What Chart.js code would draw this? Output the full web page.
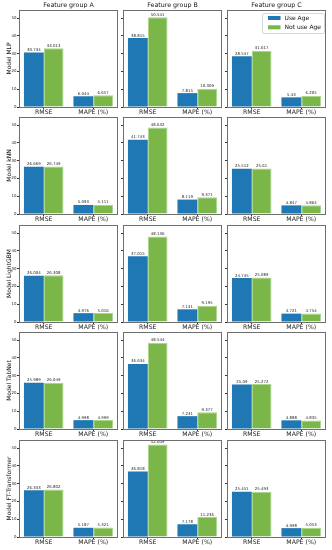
<!DOCTYPE html>
<html><head><meta charset="utf-8">
<script src="https://cdn.jsdelivr.net/npm/chart.js@4.4.1/dist/chart.umd.min.js"></script>
<style>
html,body{margin:0;padding:0;background:#fff;}
#fig{position:relative;width:332px;height:550px;overflow:hidden;background:#fff;}
#fig canvas{position:absolute;}
</style></head><body><div id="fig"></div>
<script>
// ---- data ----
const categories = ['RMSE', 'MAPE (%)'];
const groupTitles = ['Feature group A', 'Feature group B', 'Feature group C'];
const modelNames = ['MLP', 'kNN', 'LightGBM', 'TabNet', 'FT-Transformer'];
const seriesLabels = ['Use Age', 'Not use Age'];
const yTickStep = 10;

// [group A, group B, group C] -> [RMSE, MAPE]
const mlpUseAge = [[30.734, 6.044], [38.815, 7.815], [28.547, 5.43]];
const mlpNoAge = [[33.013, 6.657], [50.541, 10.309], [31.617, 6.205]];
const knnUseAge = [[26.669, 5.093], [41.743, 8.119], [25.512, 4.847]];
const knnNoAge = [[26.749, 5.111], [48.632, 9.371], [25.61, 4.864]];
const lgbmUseAge = [[26.004, 4.976], [37.015, 7.141], [24.745, 4.721]];
const lgbmNoAge = [[26.308, 5.016], [48.136, 9.195], [25.089, 4.754]];
const tabnetUseAge = [[25.989, 4.998], [36.634, 7.231], [25.09, 4.888]];
const tabnetNoAge = [[26.049, 4.999], [48.544, 9.377], [25.272, 4.835]];
const ftUseAge = [[26.333, 5.187], [36.818, 7.178], [25.451, 4.998]];
const ftNoAge = [[26.802, 5.321], [52.009, 11.236], [25.493, 5.053]];

const useAgeByModel = [mlpUseAge, knnUseAge, lgbmUseAge, tabnetUseAge, ftUseAge];
const noAgeByModel = [mlpNoAge, knnNoAge, lgbmNoAge, tabnetNoAge, ftNoAge];

// ---- layout ----
const FAMILY = '"DejaVu Sans", sans-serif';
const colLeft = [19, 123, 227];
const rowTop = [10, 117, 225, 332, 440];
const panelW = 99, panelH = 97;
const padL = 19, padT = 10, padB = 12, padR = 3;
const BLUE = '#1f77b4', GREEN = '#7ab648', GREEN_EDGE = '#a9d68a';

let dataMax = 0;
useAgeByModel.concat(noAgeByModel).forEach(m => m.forEach(g => g.forEach(v => { if (v > dataMax) dataMax = v; })));
const yMax = dataMax * 1.05;

const panelDeco = {
  id: 'panelDeco',
  afterDatasetsDraw(chart, args, opts) {
    const ctx = chart.ctx;
    const ca = chart.chartArea;
    ctx.save();
    // value labels
    ctx.font = '3.9px ' + FAMILY;
    ctx.fillStyle = '#222';
    ctx.textAlign = 'center';
    ctx.textBaseline = 'bottom';
    chart.data.datasets.forEach((ds, di) => {
      const meta = chart.getDatasetMeta(di);
      meta.data.forEach((el, i) => {
        ctx.fillText(String(ds.data[i]), el.x, el.y - 0.6);
      });
    });
    // frame
    ctx.strokeStyle = '#6e6e6e';
    ctx.lineWidth = 1;
    ctx.strokeRect(ca.left + 0.5, ca.top + 0.5, ca.right - ca.left - 1, ca.bottom - ca.top);
    // legend
    if (opts && opts.legend) {
      const bx = ca.right - 63.5, by = ca.top + 3.5, bw = 62, bh = 20;
      ctx.beginPath();
      if (ctx.roundRect) ctx.roundRect(bx, by, bw, bh, 1.5); else ctx.rect(bx, by, bw, bh);
      ctx.fillStyle = 'rgba(255,255,255,0.8)';
      ctx.fill();
      ctx.strokeStyle = '#cccccc';
      ctx.lineWidth = 0.8;
      ctx.stroke();
      ctx.font = '6px ' + FAMILY;
      ctx.textAlign = 'left';
      ctx.textBaseline = 'middle';
      chart.data.datasets.forEach((ds, di) => {
        const py = ca.top + 6 + di * 9.3;
        ctx.fillStyle = ds.backgroundColor;
        ctx.fillRect(ca.right - 58, py, 12.5, 4);
        ctx.fillStyle = '#111';
        ctx.fillText(ds.label, ca.right - 41.5, py + 2.2);
      });
    }
    ctx.restore();
  }
};

const fig = document.getElementById('fig');
for (let r = 0; r < modelNames.length; r++) {
  for (let c = 0; c < groupTitles.length; c++) {
    const cv = document.createElement('canvas');
    const W = padL + panelW + padR, H = padT + panelH + padB;
    cv.width = W; cv.height = H;
    cv.style.width = W + 'px'; cv.style.height = H + 'px';
    cv.style.left = (colLeft[c] - padL) + 'px';
    cv.style.top = (rowTop[r] - padT) + 'px';
    fig.appendChild(cv);
    new Chart(cv, {
      type: 'bar',
      data: {
        labels: categories,
        datasets: [
          { label: seriesLabels[0], data: useAgeByModel[r][c], backgroundColor: BLUE,
            categoryPercentage: 0.8, barPercentage: 1.0, borderWidth: 0 },
          { label: seriesLabels[1], data: noAgeByModel[r][c], backgroundColor: GREEN,
            borderColor: GREEN_EDGE, borderWidth: 1,
            categoryPercentage: 0.8, barPercentage: 1.0 }
        ]
      },
      plugins: [panelDeco],
      options: {
        responsive: false,
        animation: false,
        devicePixelRatio: 1,
        events: [],
        layout: { padding: { top: r === 0 ? 0 : padT, right: padR, left: 0, bottom: 0 } },
        plugins: {
          legend: { display: false },
          tooltip: { enabled: false },
          title: {
            display: r === 0, text: groupTitles[c], fullSize: false, color: '#111',
            font: { family: FAMILY, size: 6.3, weight: 'normal', lineHeight: 1 },
            padding: { top: 2.4, bottom: padT - 6.3 - 2.4 }
          },
          panelDeco: { legend: r === 0 && c === 2 }
        },
        scales: {
          x: {
            type: 'category', offset: true,
            border: { display: false },
            grid: { display: true, drawOnChartArea: false, drawTicks: true, tickLength: 2, offset: false, color: '#333' },
            ticks: { font: { family: FAMILY, size: 6.2, lineHeight: 1 }, color: '#222', padding: 0, maxRotation: 0, autoSkip: false },
            afterFit: s => { s.height = padB; }
          },
          y: {
            min: 0, max: yMax,
            border: { display: false },
            grid: { display: true, drawOnChartArea: false, drawTicks: true, tickLength: 2, color: '#333' },
            ticks: { stepSize: yTickStep, includeBounds: false, display: c === 0,
              font: { family: FAMILY, size: 3.9 }, color: '#222', padding: 0.6 },
            title: { display: c === 0, text: 'Model ' + modelNames[r], color: '#111',
              font: { family: FAMILY, size: 6, lineHeight: 1.2 }, padding: { top: 5.4, bottom: 0 } },
            afterFit: s => { s.width = padL; }
          }
        }
      }
    });
  }
}
</script>
</body></html>
